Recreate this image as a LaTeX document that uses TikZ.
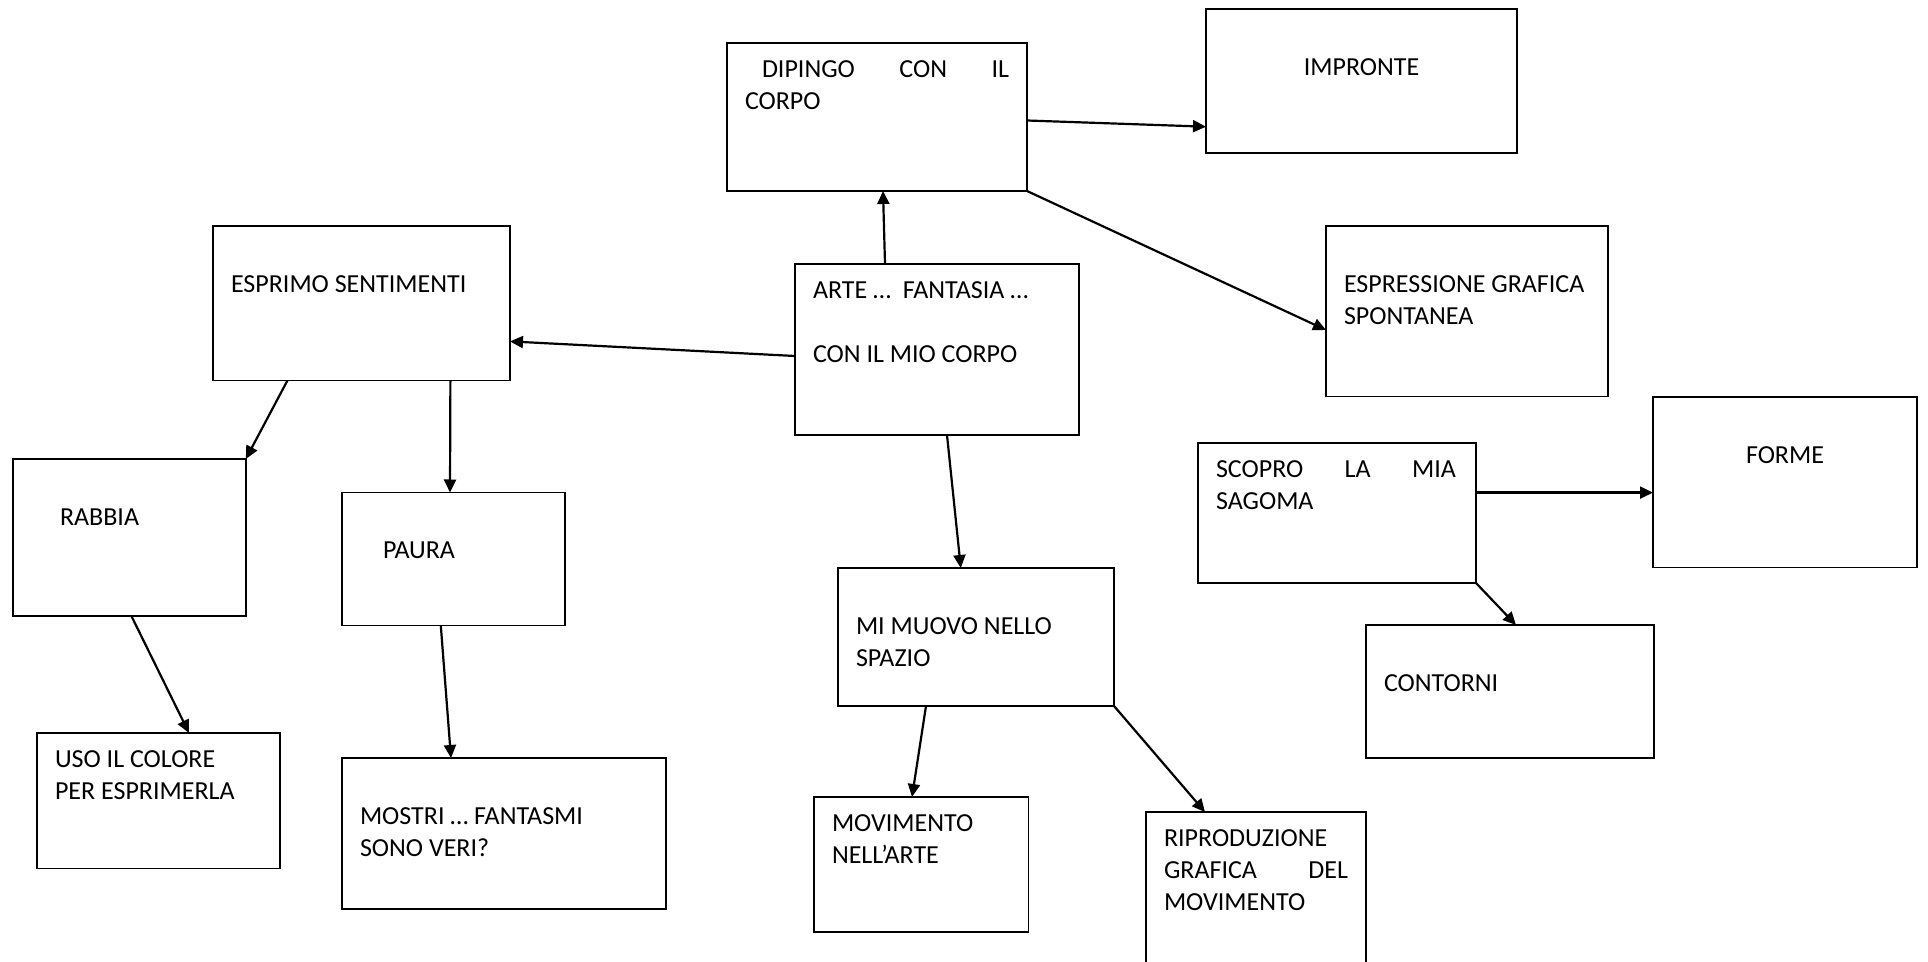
\documentclass[tikz,border=0pt]{standalone}
\usepackage{fontspec}
\setmainfont{Carlito}
\usepackage{tikz}
\usetikzlibrary{arrows.meta}

\begin{document}
\begin{tikzpicture}[x=0.5pt,y=-0.5pt,->,>={Triangle[length=6.5pt,width=6pt]},thick,
    box/.style={draw,anchor=north west,inner sep=0pt,outer sep=0pt},
    txt/.style={anchor=north west,align=flush left,text width=140pt,inner xsep=9pt,inner ysep=8.75pt,outer sep=0pt,text height=8.5pt,font=\fontsize{13}{16}\selectfont},
    mid/.style={txt,anchor=north,align=flush center,inner xsep=0pt},
    every edge/.append style={line width=1.1pt}]

        \clip (0,0) rectangle (1928,962);

        \node[box,minimum width=142pt,minimum height=85.5pt,label={[txt]north west:ARTE …\ \ FANTASIA …\\\mbox{}\\CON IL MIO CORPO}] (arte) at (795,264) {};
        \node[box,minimum width=150pt,minimum height=74pt,label={[txt,text width=132pt]north west:\hspace*{8.5pt}DIPINGO\hfill CON\hfill IL\\CORPO}] (dipingo) at (727,43) {};
        \node[box,minimum width=155.5pt,minimum height=72pt,label={[mid,text width=155.5pt]north:\mbox{}\\IMPRONTE}] (impronte) at (1206,9) {};
        \node[box,minimum width=141pt,minimum height=85.3pt,label={[txt]north west:\mbox{}\\ESPRESSIONE GRAFICA\\SPONTANEA}] (espressione) at (1326,226) {};
        \node[box,minimum width=148.5pt,minimum height=77.3pt,label={[txt]north west:\mbox{}\\ESPRIMO SENTIMENTI}] (esprimo) at (213,226) {};
        \node[box,minimum width=116.4pt,minimum height=78.5pt,label={[txt]north west:\mbox{}\\\hspace*{14.5pt}RABBIA}] (rabbia) at (13,459) {};
        \node[box,minimum width=111.5pt,minimum height=66.5pt,label={[txt]north west:\mbox{}\\\hspace*{11.5pt}PAURA}] (paura) at (342,492.5) {};
        \node[box,minimum width=121.6pt,minimum height=67.7pt,label={[txt]north west:USO IL COLORE\\PER ESPRIMERLA}] (uso) at (37,733) {};
        \node[box,minimum width=162pt,minimum height=75.5pt,label={[txt]north west:\mbox{}\\MOSTRI … FANTASMI\\SONO VERI?}] (mostri) at (342,758) {};
        \node[box,minimum width=138pt,minimum height=69pt,label={[txt]north west:\mbox{}\\MI MUOVO NELLO\\SPAZIO}] (mimuovo) at (838,568) {};
        \node[box,minimum width=107.2pt,minimum height=67.5pt,label={[txt]north west:MOVIMENTO\\NELL’ARTE}] (movimento) at (814,797) {};
        \node[box,minimum width=110pt,minimum height=90pt,label={[txt,text width=92pt]north west:RIPRODUZIONE\\GRAFICA\hfill DEL\\MOVIMENTO}] (riproduzione) at (1146,812) {};
        \node[box,minimum width=139pt,minimum height=70pt,label={[txt,text width=120pt]north west:SCOPRO\hfill LA\hfill MIA\\SAGOMA}] (scopro) at (1198,443) {};
        \node[box,minimum width=132pt,minimum height=85.3pt,label={[mid,text width=132pt]north:\mbox{}\\FORME}] (forme) at (1653,397) {};
        \node[box,minimum width=144pt,minimum height=66.5pt,label={[txt]north west:\mbox{}\\CONTORNI}] (contorni) at (1366,625) {};

          \path
            ([xshift=45pt]arte.north west)      edge ([xshift=78pt]dipingo.south west)
            ([yshift=-46pt]arte.north west)     edge ([yshift=-57.7pt]esprimo.north east)
            ([xshift=76pt]arte.south west)      edge ([xshift=61.4pt]mimuovo.north west)
            ([yshift=-38.75pt]dipingo.north east) edge ([yshift=-58.85pt]impronte.north west)
            (dipingo.south east)                edge ([yshift=-52pt]espressione.north west)
            ([xshift=37.2pt]esprimo.south west) edge (rabbia.north east)
            ([xshift=118.7pt]esprimo.south west) edge ([xshift=54pt]paura.north west)
            ([xshift=59.2pt]rabbia.south west)  edge ([xshift=76pt]uso.north west)
            ([xshift=49.4pt]paura.south west)   edge ([xshift=54.5pt]mostri.north west)
            ([xshift=44pt]mimuovo.south west)   edge ([xshift=49pt]movimento.north west)
            (mimuovo.south east)                edge ([xshift=29.5pt]riproduzione.north west)
            ([yshift=-24.8pt]scopro.north east) edge ([yshift=-47.8pt]forme.north west)
            (scopro.south east)                 edge ([xshift=75pt]contorni.north west);
\end{tikzpicture}
\end{document}
